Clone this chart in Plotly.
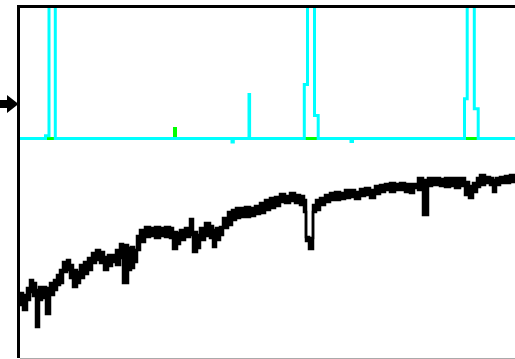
import plotly.graph_objects as go

# Trace sample positions and amplitudes
sig_x = [20, 23, 27, 30, 33, 36, 39, 42, 46, 50, 54, 57, 60, 63, 67, 70, 73, 77, 80, 84,
         88, 92, 96, 100, 104, 108, 112, 116, 120, 123, 128, 131, 134, 137, 140, 145, 150,
         155, 160, 165, 170, 173, 177, 180, 185, 190, 193, 197, 200, 205, 210, 213, 216,
         220, 223, 228, 232, 236, 240, 245, 250, 255, 260, 265, 270, 275, 280, 285, 290,
         295, 300, 304, 306, 309, 313, 316, 320, 325, 330, 335, 340, 345, 350, 355, 360,
         365, 370, 375, 380, 385, 390, 395, 400, 405, 410, 414, 418, 423, 428, 432, 440,
         445, 450, 455, 460, 465, 469, 473, 477, 480, 485, 490, 493, 496, 500, 505, 510, 515]
sig_hi = [65, 63, 70, 78, 75, 68, 71, 71, 70, 75, 78, 83, 88, 96, 98, 93, 88, 86, 93, 96,
          100, 105, 108, 106, 101, 103, 103, 108, 114, 113, 110, 111, 108, 122, 128, 131, 130,
          131, 130, 131, 130, 126, 125, 128, 130, 139, 126, 123, 130, 135, 132, 128, 130,
          131, 140, 146, 148, 150, 150, 151, 150, 152, 155, 158, 160, 161, 164, 162, 165,
          163, 162, 158, 121, 120, 153, 158, 160, 163, 165, 166, 165, 168, 168, 166, 169,
          170, 168, 172, 173, 174, 175, 174, 175, 174, 174, 174, 180, 178, 180, 180, 179,
          180, 180, 180, 180, 176, 172, 175, 180, 183, 181, 180, 178, 180, 181, 182, 183, 183]
sig_lo = [53, 48, 58, 66, 62, 31, 58, 60, 44, 63, 68, 73, 75, 86, 88, 80, 71, 75, 80, 84,
          88, 95, 98, 95, 88, 92, 96, 93, 100, 75, 88, 90, 96, 108, 116, 121, 122,
          120, 122, 121, 120, 109, 114, 118, 121, 123, 106, 110, 118, 122, 120, 111, 118,
          123, 130, 133, 138, 140, 141, 141, 142, 144, 145, 148, 150, 152, 156, 155, 157,
          155, 153, 146, 117, 109, 146, 148, 153, 156, 158, 158, 159, 160, 161, 159, 162,
          163, 160, 164, 166, 168, 166, 168, 168, 166, 165, 170, 168, 143, 172, 173, 172,
          171, 172, 170, 172, 163, 160, 166, 171, 173, 175, 173, 166, 173, 175, 175, 176, 176]

# Detector channel (cyan) and reference channel (green)
det_x = [20, 45.5, 49, 55.3, 232, 233.3, 249, 249.6, 304.3, 307.5, 314.5, 318.2,
         351, 352.5, 464.5, 467.2, 474.3, 478.2, 515]
det_v = [219.5, 222.2, 360, 219.5, 216, 219.5, 263.5, 219.5, 273.5, 360, 242.5, 219.5,
         216.5, 219.5, 259.2, 360, 249.2, 219.5, 219.5]
ref_x = [20, 174.5, 175.5, 515]
ref_v = [219.5, 229.5, 219.5, 219.5]

W, H = 515, 359
L, T, B = 20, 8, 1
PW, PH = W - L, H - T - B


def px(x):
    return (x - L) / PW


def py(y):
    return (H - B - y) / PH


fig = go.Figure()
fig.add_trace(go.Scatter(x=sig_x, y=sig_hi, mode="lines",
                         line=dict(color="black", width=2.5, shape="hv"),
                         hoverinfo="skip"))
fig.add_trace(go.Scatter(x=sig_x, y=sig_lo, mode="lines", fill="tonexty",
                         fillcolor="black",
                         line=dict(color="black", width=2.5, shape="hv"),
                         hoverinfo="skip"))
fig.add_trace(go.Scatter(x=ref_x, y=ref_v, mode="lines",
                         line=dict(color="#00ff00", width=3, shape="hv"),
                         hoverinfo="skip"))
fig.add_trace(go.Scatter(x=det_x, y=det_v, mode="lines",
                         line=dict(color="#00ffff", width=3, shape="hv"),
                         hoverinfo="skip"))

# Frame: heavy top/left border, arrow marker on the left
shapes = [
    dict(type="line", xref="paper", yref="paper",
         x0=px(17), x1=px(515), y0=py(6.5), y1=py(6.5),
         line=dict(color="black", width=3)),
    dict(type="line", xref="paper", yref="paper",
         x0=px(18.5), x1=px(18.5), y0=py(5), y1=py(358),
         line=dict(color="black", width=3)),
    dict(type="path", xref="paper", yref="paper",
         path=(f"M {px(0)},{py(100)} L {px(7)},{py(100)} L {px(7)},{py(95)} "
               f"L {px(18.5)},{py(104)} L {px(7)},{py(113)} L {px(7)},{py(108)} "
               f"L {px(0)},{py(108)} Z"),
         fillcolor="black", line=dict(width=0)),
]

fig.update_layout(
    width=W, height=H,
    margin=dict(l=L, r=0, t=T, b=B, pad=0),
    paper_bgcolor="white", plot_bgcolor="white",
    showlegend=False,
    shapes=shapes,
    xaxis=dict(range=[L, W], showgrid=False, zeroline=False, showticklabels=False,
               ticks="", showline=True, linecolor="#aaaaaa", linewidth=1, fixedrange=True),
    yaxis=dict(range=[0, PH], showgrid=False, zeroline=False, showticklabels=False,
               ticks="", showline=False, fixedrange=True),
)

fig.write_html("out.html", config={"displayModeBar": False})
